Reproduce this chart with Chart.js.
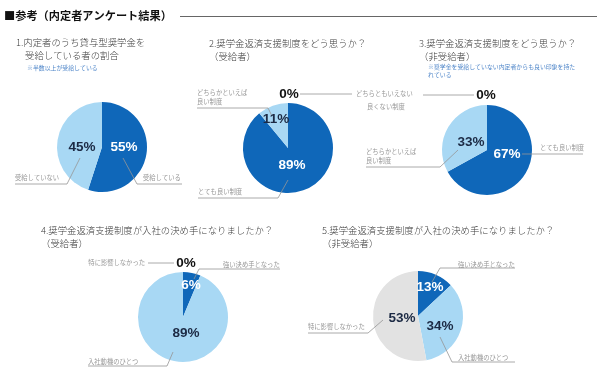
<!DOCTYPE html>
<html lang="ja">
<head>
<meta charset="utf-8">
<title>参考（内定者アンケート結果）</title>
<script src="https://cdn.jsdelivr.net/npm/chart.js@4.4.1/dist/chart.umd.min.js"></script>
<style>
  body { margin: 0; background: #fff; }
  #wrap { position: relative; width: 599px; height: 375px; overflow: hidden; }
  #wrap canvas { position: absolute; left: 0; top: 0; }
</style>
</head>
<body>
<div id="wrap">
  <canvas id="q1" width="599" height="375"></canvas>
  <canvas id="q2" width="599" height="375"></canvas>
  <canvas id="q3" width="599" height="375"></canvas>
  <canvas id="q4" width="599" height="375"></canvas>
  <canvas id="q5" width="599" height="375"></canvas>
</div>
<script>
// data
const heading = "■参考（内定者アンケート結果）";

const q1Title = ["1.内定者のうち貸与型奨学金を", "受給している者の割合"];
const q1Note = ["※半数以上が受給している"];
const q1Labels = ["受給している", "受給していない"];
const q1Values = [55, 45];

const q2Title = ["2.奨学金返済支援制度をどう思うか？", "（受給者）"];
const q2Labels = ["とても良い制度", ["どちらかといえば", "良い制度"], "どちらともいえない", "良くない制度"];
const q2Values = [89, 11, 0, 0];

const q3Title = ["3.奨学金返済支援制度をどう思うか？", "（非受給者）"];
const q3Note = ["※奨学金を受給していない内定者からも良い印象を持た", "れている"];
const q3Labels = ["とても良い制度", ["どちらかといえば", "良い制度"], "どちらともいえない", "良くない制度"];
const q3Values = [67, 33, 0, 0];

const q4Title = ["4.奨学金返済支援制度が入社の決め手になりましたか？", "（受給者）"];
const q4Labels = ["強い決め手となった", "入社動機のひとつ", "特に影響しなかった"];
const q4Values = [6, 89, 0];

const q5Title = ["5.奨学金返済支援制度が入社の決め手になりましたか？", "（非受給者）"];
const q5Labels = ["強い決め手となった", "入社動機のひとつ", "特に影響しなかった"];
const q5Values = [13, 34, 53];

const DARK = "#0f67b9";
const LIGHT = "#a8d8f4";
const GRAY = "#e2e2e2";
const NAVY = "#1c2a44";
const LABEL = "#969696";
const JP = "'Noto Sans CJK JP', sans-serif";
const NUM = "bold 13.5px 'Liberation Sans', Arial, sans-serif";
const RADIUS = 45;

// draws titles, percent labels, category labels and leader lines
const pieNotes = {
  id: "pieNotes",
  afterDraw(chart, args, o) {
    const ctx = chart.ctx;
    const meta = chart.getDatasetMeta(0);
    const cx = meta.data[0].x;
    const cy = meta.data[0].y;
    const values = chart.data.datasets[0].data;
    const labels = chart.data.labels;
    ctx.save();
    ctx.textBaseline = "middle";

    if (o.heading) {
      ctx.font = "bold 11.2px " + JP;
      ctx.fillStyle = "#111";
      ctx.textAlign = "left";
      ctx.fillText(o.heading, 4, 16);
      ctx.strokeStyle = "#666";
      ctx.lineWidth = 1;
      ctx.beginPath();
      ctx.moveTo(180, 16.5);
      ctx.lineTo(597, 16.5);
      ctx.stroke();
    }

    ctx.font = "300 9.4px " + JP;
    ctx.fillStyle = "#3a3a3a";
    ctx.textAlign = "left";
    o.title.forEach((line, k) => {
      ctx.fillText(line, o.titleX + (k ? o.titleIndent || 0 : 0), o.titleY + k * 13);
    });

    if (o.note) {
      ctx.font = "5.9px " + JP;
      ctx.fillStyle = "#4f86c9";
      o.note.forEach((line, k) => {
        ctx.fillText(line, o.noteX, o.noteY + k * 7.5);
      });
    }

    // leader lines
    ctx.strokeStyle = LABEL;
    ctx.lineWidth = 0.8;
    (o.lines || []).forEach((pts) => {
      ctx.beginPath();
      pts.forEach((p, k) => {
        if (k === 0) ctx.moveTo(cx + p[0], cy + p[1]);
        else ctx.lineTo(cx + p[0], cy + p[1]);
      });
      ctx.stroke();
    });

    // category labels
    ctx.font = "6.3px " + JP;
    ctx.fillStyle = LABEL;
    (o.cats || []).forEach((c) => {
      const txt = [].concat(labels[c.i]);
      ctx.textAlign = c.align || "left";
      txt.forEach((line, k) => {
        ctx.fillText(line, cx + c.dx, cy + c.dy + k * 9);
      });
    });

    // percent labels
    ctx.font = NUM;
    ctx.textAlign = "center";
    (o.pct || []).forEach((p) => {
      ctx.fillStyle = p.color;
      ctx.fillText(values[p.i] + "%", cx + p.dx, cy + p.dy);
    });
    ctx.restore();
  },
};

function makePie(id, cx, cy, labels, values, colors, notes) {
  return new Chart(document.getElementById(id), {
    type: "pie",
    data: {
      labels: labels,
      datasets: [{ data: values, backgroundColor: colors, borderWidth: 0 }],
    },
    options: {
      responsive: false,
      devicePixelRatio: 1,
      animation: false,
      events: [],
      radius: RADIUS,
      layout: {
        padding: {
          left: cx - RADIUS,
          top: cy - RADIUS,
          right: 599 - cx - RADIUS,
          bottom: 375 - cy - RADIUS,
        },
      },
      plugins: {
        legend: { display: false },
        tooltip: { enabled: false },
        pieNotes: notes,
      },
    },
    plugins: [pieNotes],
  });
}

makePie("q1", 102, 147, q1Labels, q1Values, [DARK, LIGHT], {
  heading: heading,
  title: q1Title, titleX: 16, titleY: 42, titleIndent: 9,
  note: q1Note, noteX: 27, noteY: 68,
  pct: [
    { i: 0, dx: 22, dy: 0, color: "#fff" },
    { i: 1, dx: -20, dy: 0, color: NAVY },
  ],
  cats: [
    { i: 0, dx: 41, dy: 31 },
    { i: 1, dx: -87, dy: 31 },
  ],
  lines: [
    [[21, 11], [35, 37], [80, 37]],
    [[-22, 11], [-35, 37], [-87, 37]],
  ],
});

makePie("q2", 288, 148, q2Labels, q2Values, [DARK, LIGHT, GRAY, GRAY], {
  title: q2Title, titleX: 209, titleY: 43,
  pct: [
    { i: 0, dx: 4, dy: 17, color: "#fff" },
    { i: 1, dx: -12, dy: -29, color: NAVY },
    { i: 2, dx: 1, dy: -54, color: "#111" },
  ],
  cats: [
    { i: 0, dx: -90, dy: 44 },
    { i: 1, dx: -91, dy: -55 },
    { i: 2, dx: 68, dy: -54 },
    { i: 3, dx: 79, dy: -41 },
  ],
  lines: [
    [[0, 32], [-10, 50], [-90, 50]],
    [[-16, -32], [-20, -40], [-91, -40]],
    [[12, -54], [64, -54]],
  ],
});

makePie("q3", 487, 150, q3Labels, q3Values, [DARK, LIGHT, GRAY, GRAY], {
  title: q3Title, titleX: 419, titleY: 43,
  note: q3Note, noteX: 428, noteY: 67,
  pct: [
    { i: 0, dx: 20, dy: 4, color: "#fff" },
    { i: 1, dx: -16, dy: -8, color: NAVY },
    { i: 2, dx: -1, dy: -55, color: "#111" },
  ],
  cats: [
    { i: 0, dx: 53, dy: -2 },
    { i: 1, dx: -121, dy: 2 },
  ],
  lines: [
    [[35, 4], [96, 4]],
    [[-29, 0], [-47, 17], [-121, 17]],
    [[-64, -55], [-13, -55]],
  ],
});

makePie("q4", 183, 317, q4Labels, q4Values, [DARK, LIGHT, GRAY], {
  title: q4Title, titleX: 41, titleY: 230,
  pct: [
    { i: 0, dx: 8, dy: -32, color: "#fff" },
    { i: 1, dx: 3, dy: 16, color: NAVY },
    { i: 2, dx: 3, dy: -54, color: "#111" },
  ],
  cats: [
    { i: 0, dx: 40, dy: -52 },
    { i: 1, dx: -95, dy: 45 },
    { i: 2, dx: -38, dy: -54, align: "right" },
  ],
  lines: [
    [[11, -38], [16, -48], [97, -48]],
    [[-10, 35], [-16, 49], [-95, 49]],
    [[-35, -54], [-9, -54]],
  ],
});

makePie("q5", 418, 316, q5Labels, q5Values, [DARK, LIGHT, GRAY], {
  title: q5Title, titleX: 322, titleY: 230,
  pct: [
    { i: 0, dx: 12, dy: -29, color: "#fff" },
    { i: 1, dx: 22, dy: 10, color: NAVY },
    { i: 2, dx: -16, dy: 2, color: NAVY },
  ],
  cats: [
    { i: 0, dx: 40, dy: -51 },
    { i: 1, dx: 40, dy: 42 },
    { i: 2, dx: -110, dy: 11 },
  ],
  lines: [
    [[14, -34], [22, -48], [97, -48]],
    [[22, 21], [34, 46], [97, 46]],
    [[-35, 4], [-50, 17], [-110, 17]],
  ],
});
</script>
</body>
</html>
